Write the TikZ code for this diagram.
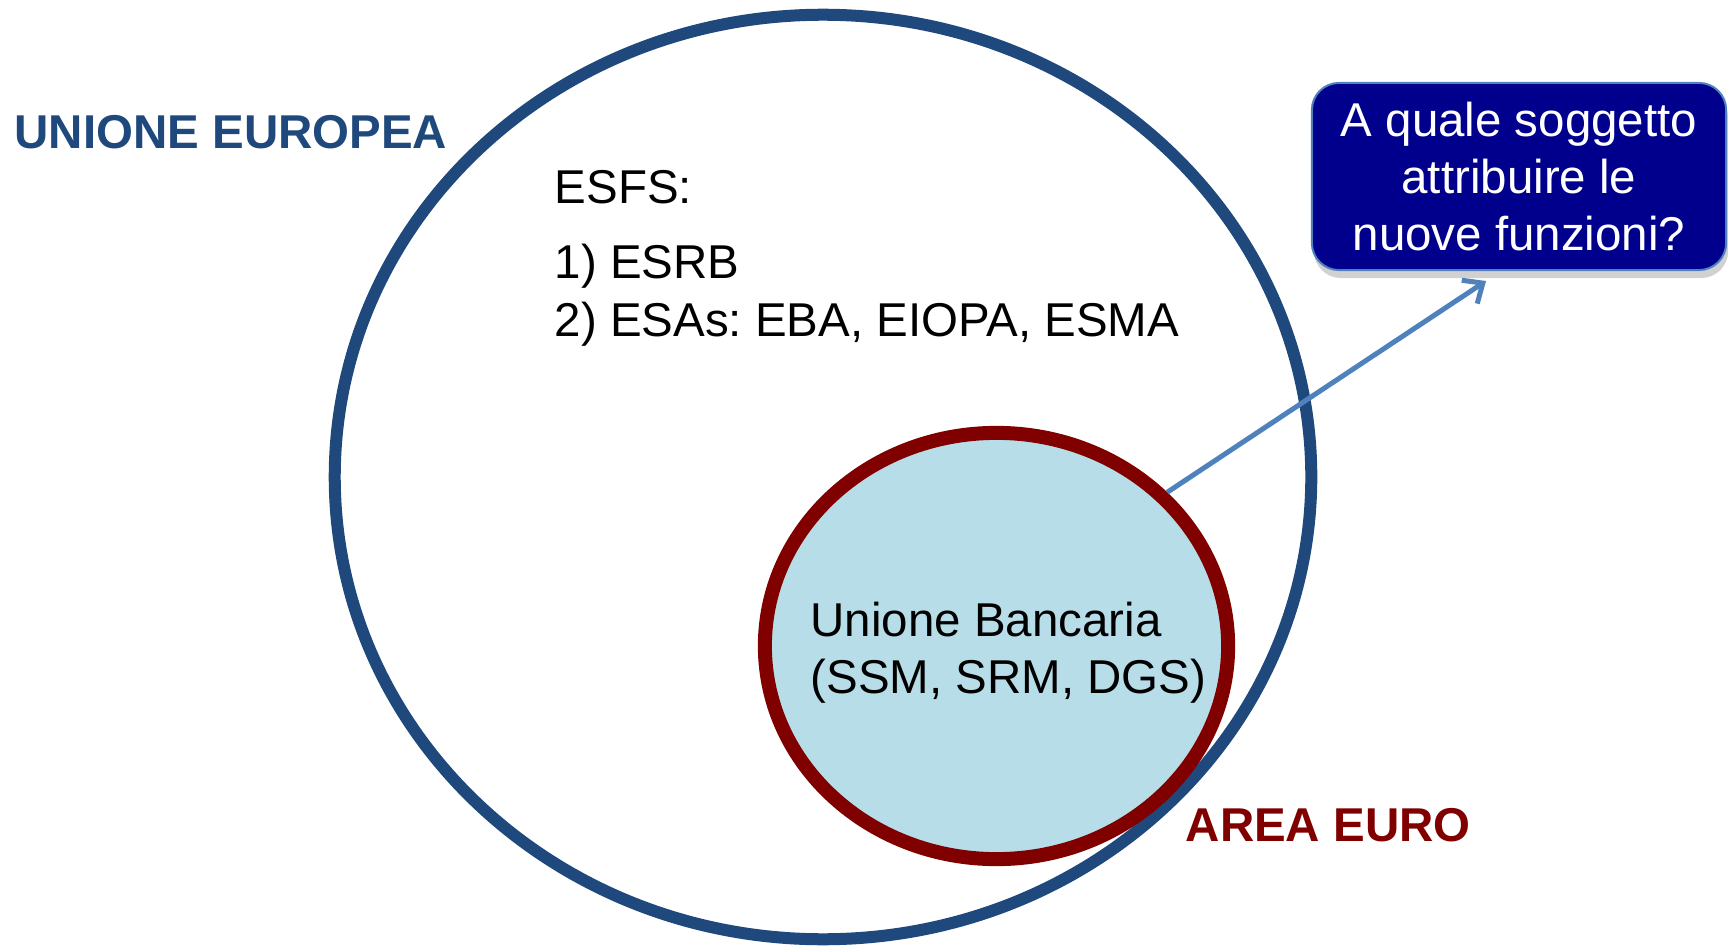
\documentclass[tikz,border=0pt]{standalone}
\usepackage{fontspec}
\setmainfont{Liberation Sans}
\usetikzlibrary{shapes.geometric,arrows.meta,shadows}
\frenchspacing
\definecolor{euBlue}{HTML}{1F497D}
\definecolor{euRed}{HTML}{800000}
\definecolor{euFill}{HTML}{B7DEE8}
\definecolor{boxFill}{RGB}{0,0,140}
\definecolor{arrBlue}{HTML}{4F81BD}
\tikzset{
  txt/.style={anchor=base west, inner sep=0pt, font=\fontsize{13.5}{16.3}\selectfont},
  boldtxt/.style={txt, font=\fontsize{13.5}{16.3}\selectfont\bfseries},
  bigell/.style={ellipse, draw=euBlue, line width=0.12cm, inner sep=0pt},
  smallell/.style={ellipse, draw=euRed, fill=euFill, line width=0.14cm, inner sep=0pt,
    drop shadow={shadow xshift=0.03cm, shadow yshift=-0.04cm, opacity=0.25, fill=black}},
  qbox/.style={draw=arrBlue, line width=0.02cm, fill=boxFill, rounded corners=0.27cm,
    text=white, align=center, inner sep=0pt,
    font=\fontsize{13.5}{16.2}\selectfont,
    drop shadow={shadow xshift=0.02cm, shadow yshift=-0.08cm, opacity=0.3, fill=black!60}},
  conn/.style={draw=arrBlue, line width=0.05cm, -{Straight Barb[length=0.16cm, width=0.28cm, line width=0.05cm]}}
}
\begin{document}
\begin{tikzpicture}[x=0.01cm, y=-0.01cm]
\useasboundingbox (0,0) rectangle (1728,946);
\node[bigell, minimum width=9.76cm, minimum height=9.24cm] (eu) at (823,477) {};
\node[smallell, minimum width=4.63cm, minimum height=4.26cm] (ea) at (996.5,646) {};
\node[qbox, minimum width=4.14cm, minimum height=1.87cm] (q) at (1519,176.5)
  {A quale soggetto\\attribuire le\\nuove funzioni?};
\coordinate (tip) at (1486,281);
\draw[conn] (ea.42) -- (tip);
\node[boldtxt, text=euBlue] (ue) at (14,149) {UNIONE EUROPEA};
\node[txt] (esfs) at (554,204) {ESFS:};
\node[txt] (esrb) at (554,279) {1) ESRB};
\node[txt] (esas) at (554,337) {2) ESAs: EBA, EIOPA, ESMA};
\node[txt] (ub1) at (810,636) {Unione Bancaria};
\node[txt] (ub2) at (810,693) {(SSM, SRM, DGS)};
\node[boldtxt, text=euRed] (ae) at (1185,841) {AREA EURO};
\end{tikzpicture}
\end{document}
